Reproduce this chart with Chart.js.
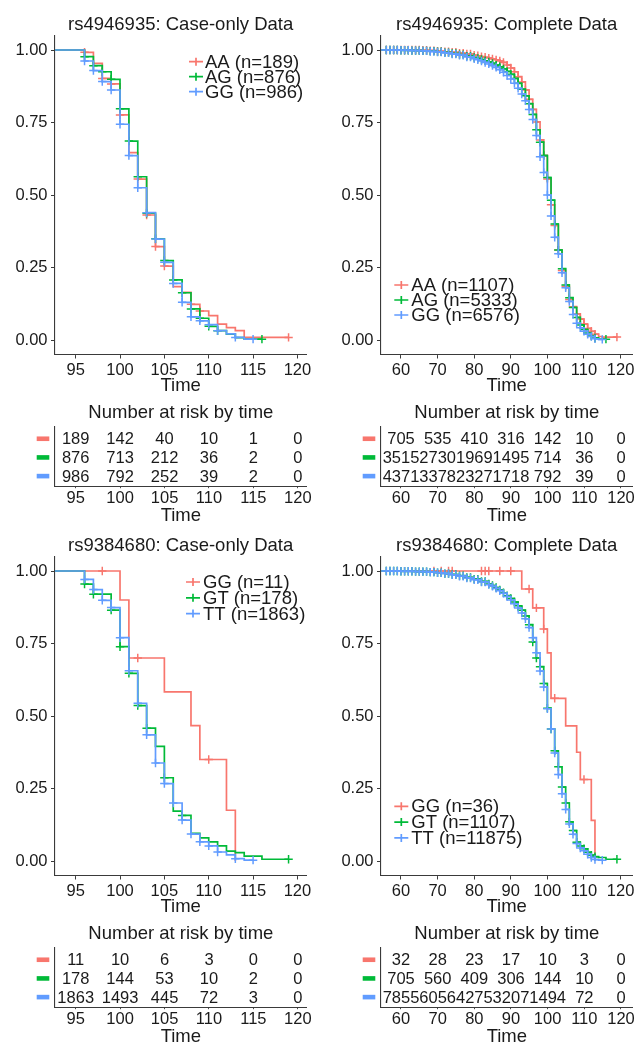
<!DOCTYPE html>
<html><head><meta charset="utf-8">
<script src="https://cdn.jsdelivr.net/npm/chart.js@4.4.1/dist/chart.umd.min.js"></script>
<style>
html,body{margin:0;padding:0;background:#fff;}
body{width:638px;height:1046px;position:relative;overflow:hidden;}
canvas{position:absolute;}
</style></head><body>
<canvas id="km1" style="left:0;top:0" width="312" height="400"></canvas>
<canvas id="km2" style="left:326px;top:0" width="312" height="400"></canvas>
<canvas id="rk1" style="left:0;top:400px" width="312" height="125"></canvas>
<canvas id="rk2" style="left:326px;top:400px" width="312" height="125"></canvas>
<canvas id="km3" style="left:0;top:521px" width="312" height="400"></canvas>
<canvas id="km4" style="left:326px;top:521px" width="312" height="400"></canvas>
<canvas id="rk3" style="left:0;top:921px" width="312" height="125"></canvas>
<canvas id="rk4" style="left:326px;top:921px" width="312" height="125"></canvas>
<script>
// ---------- colours ----------
const RED = '#F8766D', GREEN = '#00BA38', BLUE = '#619CFF';
const FONT = '"Liberation Sans", Arial, Helvetica, sans-serif';

// ---------- axis ticks ----------
const caseTicks = [95, 100, 105, 110, 115, 120];
const completeTicks = [60, 70, 80, 90, 100, 110, 120];
const survTicks = [0, 0.25, 0.5, 0.75, 1];

// ---------- Panel 1: rs4946935 case-only ----------
const p1Title = 'rs4946935: Case-only Data';
const p1Labels = ['AA (n=189)', 'AG (n=876)', 'GG (n=986)'];
const p1AATimes = [0,96,97,98,99,100,101,102,103,104,105,106,107,108,109,110,111,112,113,114,119];
const p1AASurv  = [1,0.992,0.954,0.902,0.883,0.776,0.646,0.555,0.431,0.322,0.255,0.184,0.164,0.123,0.100,0.084,0.055,0.043,0.032,0.009,0.009];
const p1AACensor = [96,98,99,100,102,103,104,105,108,109,119];
const p1AGTimes = [0,96,97,98,99,100,101,102,103,104,105,106,107,108,109,110,111,112,113,114,116];
const p1AGSurv  = [1,0.977,0.946,0.925,0.899,0.797,0.686,0.563,0.437,0.349,0.274,0.207,0.163,0.107,0.075,0.047,0.032,0.020,0.008,0.003,0.003];
const p1AGCensor = [96,97,98,99,100,101,102,103,104,105,106,107,108,109,110,111,116];
const p1GGTimes = [0,96,97,98,99,100,101,102,103,104,105,106,107,108,109,110,111,112,113,114,115];
const p1GGSurv  = [1,0.962,0.929,0.891,0.862,0.744,0.636,0.525,0.439,0.348,0.268,0.195,0.130,0.080,0.066,0.053,0.032,0.021,0.009,0.003,0.003];
const p1GGCensor = [96,97,98,99,100,101,102,103,104,105,106,107,108,109,110,111,113,115];

// ---------- Panel 2: rs4946935 complete ----------
const p2Title = 'rs4946935: Complete Data';
const p2Labels = ['AA (n=1107)', 'AG (n=5333)', 'GG (n=6576)'];
const p2AATimes = [0,66,68,70,72,74,76,78,80,81,82,83,84,85,86,87,88,89,90,91,92,93,94,95,96,97,98,99,100,101,102,103,104,105,106,107,108,109,110,111,112,113,114,115,119];
const p2AASurv  = [1,0.999,0.998,0.996,0.994,0.992,0.989,0.986,0.982,0.980,0.977,0.975,0.972,0.969,0.966,0.962,0.957,0.948,0.938,0.925,0.908,0.890,0.862,0.830,0.795,0.752,0.690,0.636,0.555,0.466,0.395,0.310,0.240,0.185,0.140,0.115,0.090,0.072,0.055,0.040,0.030,0.020,0.012,0.010,0.010];
const p2AGTimes = [0,60,63,66,68,70,72,74,76,78,80,81,82,83,84,85,86,87,88,89,90,91,92,93,94,95,96,97,98,99,100,101,102,103,104,105,106,107,108,109,110,111,112,113,114,116];
const p2AGSurv  = [1,0.999,0.998,0.997,0.996,0.994,0.991,0.988,0.984,0.979,0.974,0.971,0.967,0.963,0.959,0.954,0.948,0.942,0.935,0.926,0.916,0.902,0.885,0.865,0.842,0.815,0.778,0.725,0.682,0.636,0.560,0.482,0.400,0.310,0.246,0.190,0.146,0.112,0.078,0.052,0.036,0.024,0.014,0.007,0.003,0.003];
const p2GGTimes = [0,60,63,66,68,70,72,74,76,78,80,81,82,83,84,85,86,87,88,89,90,91,92,93,94,95,96,97,98,99,100,101,102,103,104,105,106,107,108,109,110,111,112,113,114,115];
const p2GGSurv  = [1,0.999,0.998,0.997,0.995,0.993,0.990,0.986,0.982,0.976,0.970,0.966,0.962,0.957,0.952,0.946,0.940,0.932,0.923,0.912,0.900,0.885,0.868,0.848,0.825,0.795,0.760,0.705,0.632,0.578,0.500,0.428,0.354,0.297,0.232,0.180,0.133,0.088,0.058,0.042,0.030,0.020,0.012,0.004,0.002,0.002];
const p2CensorTimes = [56,57,58,59,60,61,62,63,64,65,66,67,68,69,70,71,72,73,74,75,76,77,78,79,80,81,82,83,84,85,86,87,88,89,90,91,92,93,94,95,96,97,98,99,100,101,102,103,104,105,106,107,108,109,110,111,112,113];
const p2EndAA = [119], p2EndAG = [116], p2EndGG = [115];

// ---------- Panel 3: rs9384680 case-only ----------
const p3Title = 'rs9384680: Case-only Data';
const p3Labels = ['GG (n=11)', 'GT (n=178)', 'TT (n=1863)'];
const p3GGTimes = [0,100,101,105,108,109,112,113];
const p3GGSurv  = [1,0.900,0.700,0.583,0.467,0.350,0.175,0];
const p3GGCensor = [98,102,110];
const p3GTTimes = [0,96,97,99,100,101,102,103,104,105,106,107,108,109,110,111,112,113,114,116,119];
const p3GTSurv  = [1,0.955,0.920,0.865,0.739,0.647,0.536,0.458,0.395,0.287,0.172,0.157,0.095,0.080,0.066,0.052,0.034,0.029,0.017,0.006,0.006];
const p3GTCensor = [96,97,99,100,101,102,103,105,107,119];
const p3TTTimes = [0,96,97,98,99,100,101,102,103,104,105,106,107,108,109,110,111,112,113,114,115];
const p3TTSurv  = [1,0.971,0.936,0.899,0.874,0.770,0.656,0.544,0.435,0.338,0.267,0.200,0.141,0.093,0.066,0.052,0.031,0.021,0.008,0.003,0.003];
const p3TTCensor = [96,97,98,99,100,101,102,103,104,105,106,107,108,109,110,111,113,115];

// ---------- Panel 4: rs9384680 complete ----------
const p4Title = 'rs9384680: Complete Data';
const p4Labels = ['GG (n=36)', 'GT (n=1107)', 'TT (n=11875)'];
const p4GGTimes = [0,93,96,99,100,101,105,108,109,112,113];
const p4GGSurv  = [1,0.938,0.873,0.800,0.718,0.561,0.466,0.375,0.281,0.140,0];
const p4GGCensor = [69,71,73,74,82,83,84,87,90,95,97,99,102,110];
const p4GTTimes = [0,60,64,68,70,72,74,76,78,80,82,84,85,86,87,88,89,90,91,92,93,94,95,96,97,98,99,100,101,102,103,104,105,106,107,108,109,110,111,112,113,114,116,119];
const p4GTSurv  = [1,0.999,0.998,0.996,0.994,0.991,0.988,0.984,0.978,0.972,0.964,0.955,0.950,0.943,0.935,0.925,0.915,0.905,0.893,0.880,0.865,0.845,0.815,0.755,0.700,0.670,0.612,0.527,0.455,0.380,0.325,0.255,0.200,0.135,0.105,0.065,0.052,0.042,0.030,0.020,0.015,0.012,0.006,0.006];
const p4TTTimes = [0,60,64,68,70,72,74,76,78,80,82,84,85,86,87,88,89,90,91,92,93,94,95,96,97,98,99,100,101,102,103,104,105,106,107,108,109,110,111,112,113,114,115];
const p4TTSurv  = [1,0.999,0.998,0.996,0.994,0.991,0.987,0.982,0.976,0.970,0.962,0.953,0.947,0.940,0.932,0.923,0.912,0.900,0.887,0.872,0.855,0.835,0.805,0.770,0.718,0.655,0.600,0.525,0.455,0.372,0.298,0.232,0.178,0.128,0.092,0.060,0.045,0.035,0.023,0.012,0.005,0.003,0.003];
const p4CensorTimes = [56,57,58,59,60,61,62,63,64,65,66,67,68,69,70,71,72,73,74,75,76,77,78,79,80,81,82,83,84,85,86,87,88,89,90,91,92,93,94,95,96,97,98,99,100,101,102,103,104,105,106,107,108,109,110,111,112,113];
const p4EndGT = [119], p4EndTT = [115];

// ---------- Number at risk tables ----------
const r1Times = [95, 100, 105, 110, 115, 120];
const r1AA = [189, 142, 40, 10, 1, 0];
const r1AG = [876, 713, 212, 36, 2, 0];
const r1GG = [986, 792, 252, 39, 2, 0];
const r2Times = [60, 70, 80, 90, 100, 110, 120];
const r2AA = [705, 535, 410, 316, 142, 10, 0];
const r2AG = [3515, 2730, 1969, 1495, 714, 36, 0];
const r2GG = [4371, 3378, 2327, 1718, 792, 39, 0];
const r3Times = [95, 100, 105, 110, 115, 120];
const r3GG = [11, 10, 6, 3, 0, 0];
const r3GT = [178, 144, 53, 10, 2, 0];
const r3TT = [1863, 1493, 445, 72, 3, 0];
const r4Times = [60, 70, 80, 90, 100, 110, 120];
const r4GG = [32, 28, 23, 17, 10, 3, 0];
const r4GT = [705, 560, 409, 306, 144, 10, 0];
const r4TT = [7855, 6056, 4275, 3207, 1494, 72, 0];
const riskTitle = 'Number at risk by time';
const axisTitle = 'Time';

// ---------- helpers ----------
function stepValue(times, surv, t) {
  let v = surv[0];
  for (let i = 0; i < times.length; i++) if (times[i] <= t) v = surv[i];
  return v;
}
const TXT = '#1a1a1a', AX = '#3a3a3a';

const titlePlugin = {
  id: 'panelTitle',
  afterDraw(chart, args, o) {
    if (!o || !o.text) return;
    const {ctx, chartArea} = chart;
    ctx.save();
    ctx.font = o.size + 'px ' + FONT;
    ctx.fillStyle = TXT;
    ctx.textAlign = 'center';
    ctx.textBaseline = 'alphabetic';
    ctx.fillText(o.text, (chartArea.left + chartArea.right) / 2, o.y);
    ctx.restore();
  }
};

const legendPlugin = {
  id: 'kmLegend',
  afterDatasetsDraw(chart, args, o) {
    if (!o || o.keyX === undefined) return;
    const ctx = chart.ctx;
    let k = 0;
    chart.data.datasets.forEach(ds => {
      if (!ds.isCurve) return;
      const y = o.y + k * o.step;
      ctx.save();
      ctx.strokeStyle = ds.borderColor;
      ctx.lineWidth = 1.7;
      ctx.beginPath();
      ctx.moveTo(o.keyX - 7, y); ctx.lineTo(o.keyX + 7, y);
      ctx.moveTo(o.keyX, y - 4); ctx.lineTo(o.keyX, y + 4);
      ctx.stroke();
      ctx.font = o.size + 'px ' + FONT;
      ctx.fillStyle = TXT;
      ctx.textAlign = 'left';
      ctx.textBaseline = 'middle';
      ctx.fillText(ds.label, o.textX, y + 1);
      ctx.restore();
      k++;
    });
  }
};

const riskPlugin = {
  id: 'riskText',
  afterDatasetsDraw(chart, args, o) {
    if (!o || !o.on) return;
    const ctx = chart.ctx, xs = chart.scales.x, ys = chart.scales.y;
    chart.data.datasets.forEach(ds => {
      ctx.save();
      ctx.font = o.size + 'px ' + FONT;
      ctx.fillStyle = TXT;
      ctx.textAlign = 'center';
      ctx.textBaseline = 'middle';
      ds.data.forEach((p, i) => {
        ctx.fillText(String(ds.counts[i]), xs.getPixelForValue(p.x), ys.getPixelForValue(p.y) + 1);
      });
      const yy = ys.getPixelForValue(ds.data[0].y);
      ctx.fillStyle = ds.stripe;
      ctx.fillRect(chart.chartArea.left - 18.3, yy - 2.3, 12.6, 4.6);
      ctx.restore();
    });
  }
};

function xScale(min, max, ticks, height, tickLen, tickPad) {
  return {
    type: 'linear', min: min, max: max,
    afterBuildTicks: s => { s.ticks = ticks.map(v => ({value: v})); },
    afterFit: s => { s.height = height; s.paddingLeft = 0; s.paddingRight = 0; },
    ticks: {autoSkip: false, maxRotation: 0, padding: tickPad, color: TXT,
            font: {family: FONT, size: 16.5, lineHeight: 1},
            callback: v => String(v)},
    grid: {display: true, drawOnChartArea: false, drawTicks: true, tickLength: tickLen, color: AX, lineWidth: 1},
    border: {display: true, color: AX, width: 1.1},
    title: {display: true, text: axisTitle, color: TXT, padding: 0,
            font: {family: FONT, size: 18.5, lineHeight: 1}}
  };
}

function makeKM(id, title, curves, xmin, xmax, xticks, leg) {
  const ds = [];
  curves.forEach((c, k) => {
    ds.push({type: 'line', label: c.label, isCurve: true,
      data: c.times.map((t, i) => ({x: t, y: c.surv[i]})),
      borderColor: c.color, backgroundColor: c.color, borderWidth: 1.7,
      pointRadius: 0, stepped: 'before', fill: false, order: 10 - 2 * k});
    ds.push({type: 'scatter',
      data: c.censor.map(t => ({x: t, y: stepValue(c.times, c.surv, t)})),
      pointStyle: 'cross', pointRadius: 4.2, pointBorderWidth: 1.5, borderWidth: 1.5,
      pointBorderColor: c.color, borderColor: c.color, backgroundColor: c.color,
      order: 9 - 2 * k});
  });
  new Chart(document.getElementById(id), {
    type: 'line',
    data: {datasets: ds},
    options: {
      responsive: false, animation: false, events: [],
      layout: {padding: {left: 0, right: 5.3, top: 35.5, bottom: 5.0}},
      scales: {
        x: xScale(xmin, xmax, xticks, 40.5, 4, 3.5),
        y: {
          type: 'linear', min: -0.05, max: 1.05,
          afterBuildTicks: s => { s.ticks = survTicks.map(v => ({value: v})); },
          afterFit: s => { s.width = 55; s.paddingTop = 0; s.paddingBottom = 0; },
          ticks: {padding: 3.5, color: TXT, font: {family: FONT, size: 16.5, lineHeight: 1},
                  callback: v => Number(v).toFixed(2)},
          grid: {display: true, drawOnChartArea: false, drawTicks: true, tickLength: 4, color: AX, lineWidth: 1},
          border: {display: true, color: AX, width: 1.1}
        }
      },
      plugins: {
        legend: {display: false}, tooltip: {enabled: false},
        panelTitle: {text: title, y: 29.5, size: 18.5},
        kmLegend: leg
      }
    },
    plugins: [titlePlugin, legendPlugin]
  });
}

function makeRisk(id, times, rows, xmin, xmax, xticks) {
  const ds = rows.map((r, k) => ({
    type: 'scatter', counts: r.counts, stripe: r.color,
    data: times.map(t => ({x: t, y: k + 1})), pointRadius: 0
  }));
  new Chart(document.getElementById(id), {
    type: 'scatter',
    data: {datasets: ds},
    options: {
      responsive: false, animation: false, events: [],
      layout: {padding: {left: 0, right: 5.3, top: 26.8, bottom: 0}},
      scales: {
        x: xScale(xmin, xmax, xticks, 38.8, 2, 2.5),
        y: {
          type: 'linear', reverse: true, min: 0.36, max: 3.54,
          afterFit: s => { s.width = 55; s.paddingTop = 0; s.paddingBottom = 0; },
          ticks: {display: false},
          grid: {display: false},
          border: {display: true, color: AX, width: 1.1}
        }
      },
      plugins: {
        legend: {display: false}, tooltip: {enabled: false},
        panelTitle: {text: riskTitle, y: 18.3, size: 18.5},
        riskText: {on: true, size: 16.5}
      }
    },
    plugins: [titlePlugin, riskPlugin]
  });
}

const CASE_MIN = 92.67, CASE_MAX = 121.0;
const COMP_MIN = 54.55, COMP_MAX = 123.2;

makeKM('km1', p1Title, [
  {label: p1Labels[0], color: RED, times: p1AATimes, surv: p1AASurv, censor: p1AACensor},
  {label: p1Labels[1], color: GREEN, times: p1AGTimes, surv: p1AGSurv, censor: p1AGCensor},
  {label: p1Labels[2], color: BLUE, times: p1GGTimes, surv: p1GGSurv, censor: p1GGCensor}
], CASE_MIN, CASE_MAX, caseTicks, {keyX: 196, textX: 205, y: 61.7, step: 15, size: 18.5});

makeKM('km2', p2Title, [
  {label: p2Labels[0], color: RED, times: p2AATimes, surv: p2AASurv, censor: p2CensorTimes.concat(p2EndAA)},
  {label: p2Labels[1], color: GREEN, times: p2AGTimes, surv: p2AGSurv, censor: p2CensorTimes.concat(p2EndAG)},
  {label: p2Labels[2], color: BLUE, times: p2GGTimes, surv: p2GGSurv, censor: p2CensorTimes.concat(p2EndGG)}
], COMP_MIN, COMP_MAX, completeTicks, {keyX: 75.3, textX: 85.3, y: 285, step: 15, size: 18.5});

makeKM('km3', p3Title, [
  {label: p3Labels[0], color: RED, times: p3GGTimes, surv: p3GGSurv, censor: p3GGCensor},
  {label: p3Labels[1], color: GREEN, times: p3GTTimes, surv: p3GTSurv, censor: p3GTCensor},
  {label: p3Labels[2], color: BLUE, times: p3TTTimes, surv: p3TTSurv, censor: p3TTCensor}
], CASE_MIN, CASE_MAX, caseTicks, {keyX: 193, textX: 203, y: 61, step: 15.8, size: 18.5});

makeKM('km4', p4Title, [
  {label: p4Labels[0], color: RED, times: p4GGTimes, surv: p4GGSurv, censor: p4GGCensor},
  {label: p4Labels[1], color: GREEN, times: p4GTTimes, surv: p4GTSurv, censor: p4CensorTimes.concat(p4EndGT)},
  {label: p4Labels[2], color: BLUE, times: p4TTTimes, surv: p4TTSurv, censor: p4CensorTimes.concat(p4EndTT)}
], COMP_MIN, COMP_MAX, completeTicks, {keyX: 75.3, textX: 85.3, y: 285.3, step: 15.8, size: 18.5});

makeRisk('rk1', r1Times, [{color: RED, counts: r1AA}, {color: GREEN, counts: r1AG}, {color: BLUE, counts: r1GG}], CASE_MIN, CASE_MAX, caseTicks);
makeRisk('rk2', r2Times, [{color: RED, counts: r2AA}, {color: GREEN, counts: r2AG}, {color: BLUE, counts: r2GG}], COMP_MIN, COMP_MAX, completeTicks);
makeRisk('rk3', r3Times, [{color: RED, counts: r3GG}, {color: GREEN, counts: r3GT}, {color: BLUE, counts: r3TT}], CASE_MIN, CASE_MAX, caseTicks);
makeRisk('rk4', r4Times, [{color: RED, counts: r4GG}, {color: GREEN, counts: r4GT}, {color: BLUE, counts: r4TT}], COMP_MIN, COMP_MAX, completeTicks);
</script>
</body></html>
